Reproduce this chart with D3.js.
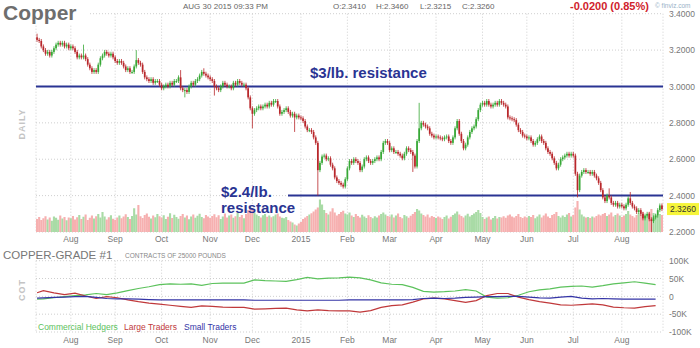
<!DOCTYPE html>
<html>
<head>
<meta charset="utf-8">
<script src="https://cdn.jsdelivr.net/npm/d3@7"></script>
<style>
  body { margin: 0; background: #fff; }
  svg text { font-family: Arial, "Liberation Sans", sans-serif; }
</style>
</head>
<body>
<svg id="chart" width="700" height="348"></svg>
<script>
// daily closes, Jul 10 2014 .. Aug 28 2015 (one per weekday)
const closes = [
  // Jul
  3.256, 3.25, 3.22, 3.20, 3.18, 3.19, 3.17, 3.19, 3.21, 3.23, 3.24, 3.23, 3.24, 3.22, 3.23, 3.21,
  // Aug
  3.22, 3.21, 3.19, 3.16, 3.17, 3.16, 3.17, 3.15, 3.12, 3.10, 3.08, 3.09, 3.08, 3.12, 3.155, 3.17, 3.19, 3.18, 3.17, 3.18, 3.16,
  // Sep
  3.14, 3.13, 3.14, 3.13, 3.11, 3.09, 3.10, 3.08, 3.08, 3.11, 3.145, 3.13, 3.12, 3.08, 3.05, 3.04, 3.03, 3.04, 3.02, 3.03, 3.03, 3.01,
  // Oct
  2.99, 3.00, 3.01, 3.00, 3.02, 3.01, 3.03, 3.03, 3.05, 2.99, 2.98, 2.98, 2.97, 3.00, 3.02, 3.01, 3.03, 3.04, 3.06, 3.08, 3.07, 3.06, 3.05,
  // Nov
  3.04, 3.03, 3.00, 2.99, 2.98, 3.00, 3.02, 3.01, 3.00, 3.00, 2.99, 3.02, 3.01, 3.03, 3.02, 3.01, 3.01, 2.99, 2.94, 2.88,
  // Dec
  2.85, 2.87, 2.88, 2.89, 2.88, 2.89, 2.90, 2.89, 2.91, 2.90, 2.92, 2.92, 2.89, 2.85, 2.86, 2.87, 2.88, 2.86, 2.84, 2.85, 2.83, 2.84, 2.83,
  // Jan 2015
  2.825, 2.81, 2.78, 2.76, 2.76, 2.75, 2.72, 2.69, 2.54, 2.58, 2.615, 2.62, 2.60, 2.605, 2.57, 2.55, 2.50, 2.48, 2.47, 2.46, 2.45, 2.49,
  // Feb
  2.55, 2.59, 2.58, 2.60, 2.59, 2.58, 2.54, 2.56, 2.60, 2.61, 2.59, 2.58, 2.59, 2.60, 2.61, 2.60, 2.64, 2.69, 2.70, 2.69,
  // Mar
  2.65, 2.66, 2.64, 2.64, 2.63, 2.62, 2.605, 2.63, 2.66, 2.65, 2.64, 2.62, 2.56, 2.70, 2.77, 2.80, 2.79, 2.78, 2.77, 2.74, 2.73, 2.72,
  // Apr
  2.725, 2.72, 2.715, 2.71, 2.72, 2.725, 2.70, 2.69, 2.72, 2.77, 2.81, 2.74, 2.70, 2.66, 2.68, 2.72, 2.75, 2.77, 2.78, 2.82, 2.87, 2.90,
  // May
  2.91, 2.90, 2.92, 2.90, 2.89, 2.90, 2.91, 2.90, 2.92, 2.91, 2.90, 2.89, 2.83, 2.825, 2.82, 2.815, 2.79, 2.76, 2.75, 2.73, 2.725,
  // Jun
  2.715, 2.72, 2.70, 2.68, 2.69, 2.71, 2.725, 2.70, 2.69, 2.66, 2.64, 2.63, 2.605, 2.58, 2.55, 2.57, 2.60, 2.61, 2.62, 2.63, 2.62, 2.63,
  // Jul
  2.62, 2.52, 2.43, 2.51, 2.53, 2.54, 2.53, 2.53, 2.52, 2.53, 2.51, 2.495, 2.47, 2.43, 2.39, 2.37, 2.40, 2.39, 2.36, 2.35, 2.36, 2.34, 2.35,
  // Aug
  2.341, 2.33, 2.35, 2.385, 2.36, 2.34, 2.33, 2.31, 2.32, 2.30, 2.275, 2.29, 2.30, 2.27, 2.26, 2.28, 2.29, 2.32, 2.346, 2.326
];
const firstOpen = 3.27;

const volumes = [
  52, 60, 48, 55, 63, 50, 58, 45, 62, 57, 49, 66, 54, 60, 47, 58,
  55, 64, 50, 59, 68, 52, 61, 70, 48, 57, 66, 54, 63, 72, 58, 80, 62, 50, 59, 67, 53,
  49, 58, 66, 55, 62, 71, 60, 52, 64, 95, 70, 108, 63, 56, 68, 74, 61, 54, 66, 59, 72, 63,
  58, 67, 52, 61, 75, 56, 69, 60, 53, 64, 72, 58, 66, 51, 62, 70, 57, 65, 73, 60, 55, 68, 62,
  56, 64, 71, 59, 67, 52, 62, 74, 58, 66, 70, 57, 63, 77, 60, 68, 55, 72, 88, 102,
  96, 78, 70, 64, 58, 67, 72, 61, 66, 59, 63, 70, 74, 62, 57, 55, 60, 48, 42, 38, 30, 26, 34,
  40, 52, 58, 64, 70, 75, 82, 90, 98, 130, 110, 88, 76, 70, 82, 95, 78, 66, 72, 80, 85, 74,
  70, 78, 66, 60, 72, 64, 58, 69, 62, 56, 67, 60, 55, 63, 58, 66, 72, 78, 70, 64,
  62, 70, 58, 66, 74, 60, 55, 68, 63, 57, 65, 72, 80, 92, 86, 74, 68, 62, 70, 58, 64, 60,
  56, 62, 58, 52, 60, 66, 54, 61, 68, 74, 82, 70, 64, 58, 66, 73, 62, 68, 74, 80, 88, 76,
  60, 52, 58, 62, 50, 56, 64, 54, 60, 58, 63, 57, 66, 70, 62, 58, 64, 72, 60, 56, 62,
  58, 64, 60, 68, 55, 62, 70, 58, 66, 74, 62, 56, 68, 72, 80, 64, 58, 66, 60, 70, 76, 62,
  68, 98, 124, 90, 70, 62, 58, 60, 56, 62, 58, 64, 70, 66, 72, 76, 64, 70, 78, 62, 68, 74, 66,
  60, 66, 72, 84, 70, 64, 58, 68, 74, 70, 80, 66, 72, 78, 92, 76, 70, 64, 72, 68
];

// long wicks [day index, high, low]
const wicks = [
  [0, 3.29, null], [22, 3.23, null], [47, 3.20, null], [68, 3.09, null], [70, null, 2.94],
  [79, 3.10, null], [84, null, 2.95], [102, null, 2.77], [122, null, 2.75], [133, null, 2.40],
  [178, null, 2.53], [181, 2.91, null], [256, null, 2.39], [271, 2.44, null], [281, 2.42, null],
  [291, null, 2.20]
];

const priceTicks = [2.2, 2.4, 2.6, 2.8, 3.0, 3.2, 3.4];
const monthLabels = ["Aug", "Sep", "Oct", "Nov", "Dec", "2015", "Feb", "Mar", "Apr", "May", "Jun", "Jul", "Aug"];

// COT net positions (thousand contracts), weekly from Jul 8 2014
const commercial = [-8, -7, -4, -1, 2, 4, 8, 5, 10, 16, 22, 27, 33, 35, 34, 35, 31, 36, 37, 37, 37,
  46, 44, 43, 42, 47, 53, 49, 51, 52, 54, 52, 46, 38, 34, 33, 25, 14, 12, 13, 15, 19, 15,
  -2, -5, -4, 3, 13, 18, 21, 26, 28, 29, 26, 30, 35, 38, 41, 37, 33];
const largeTraders = [10, 16, 10, 5, 9, 1, -6, -1, -4, -10, -15, -19, -22, -25, -28, -31, -27, -28, -30, -31, -31,
  -36, -35, -34, -33, -38, -41, -38, -40, -41, -41, -44, -40, -31, -26, -24, -16, -7, -5, -7, -12, -17, -12,
  2, 8, 8, -2, -9, -15, -19, -24, -25, -23, -21, -24, -30, -32, -33, -29, -26];
const smallTraders = [-5, -4, -3, -2, -1, 0, -3, -6, -7, -7, -8, -9, -10, -10, -10, -10, -10, -10, -10, -10, -10,
  -11, -11, -11, -11, -11, -11, -11, -11, -11, -10, -10, -10, -10, -10, -10, -9, -6, -5, -6, -5, -3, -2,
  -1, -1, 0, 0, -2, -4, -5, -2, 0, -5, -7, -6, -7, -8, -8, -8, -8];
const cotTicks = [-100, -50, 0, 50, 100];
const cotLabels = ["-100K", "-50K", "0", "50K", "100K"];

const svg = d3.select("#chart");
const left = 36, right = 663;

const days = d3.timeDay.range(new Date(2014, 6, 10), new Date(2015, 7, 29))
  .filter(d => d.getDay() !== 0 && d.getDay() !== 6);
const n = Math.min(days.length, closes.length);

const candles = d3.range(n).map(i => ({
  i,
  date: days[i],
  open: i === 0 ? firstOpen : closes[i - 1],
  close: closes[i],
  vol: volumes[i]
}));
wicks.forEach(([i, h, l]) => {
  if (candles[i]) { candles[i].high = h; candles[i].low = l; }
});

const x = d3.scaleBand().domain(d3.range(n)).range([left, right]);
const bw = x.bandwidth();
const cx = i => x(i) + bw / 2;

const y = d3.scaleLinear().domain([2.2, 3.4]).range([232, 13.7]);
const yVol = d3.scaleLinear().domain([0, 160]).range([232, 192]);
const yCot = d3.scaleLinear().domain([-100, 100]).range([332, 260.7]);

// first trading day of every month
const monthStarts = candles.filter((c, i) => i > 0 && c.date.getMonth() !== candles[i - 1].date.getMonth()).map(c => c.i);

function cotX(d) {
  let idx = candles.findIndex(c => c.date >= d);
  if (idx < 0) idx = n - 1;
  return cx(idx);
}
const cotDates = d3.timeTuesday.range(new Date(2014, 6, 8), new Date(2015, 7, 26));

// ---- grid
const grid = svg.append("g").attr("stroke", "#cfcfcf").attr("stroke-dasharray", "1,2").attr("stroke-width", 1);
priceTicks.forEach(t => {
  grid.append("line").attr("x1", left).attr("x2", right).attr("y1", y(t)).attr("y2", y(t));
});
cotTicks.forEach(t => {
  grid.append("line").attr("x1", left).attr("x2", right).attr("y1", yCot(t)).attr("y2", yCot(t));
});
[left, right].concat(monthStarts.map(cx)).forEach(px => {
  grid.append("line").attr("x1", px).attr("x2", px).attr("y1", y(3.4)).attr("y2", y(2.2));
  grid.append("line").attr("x1", px).attr("x2", px).attr("y1", yCot(100)).attr("y2", yCot(-100));
});

// ---- volume
svg.append("g").selectAll("rect").data(candles).join("rect")
  .attr("x", d => x(d.i))
  .attr("width", bw)
  .attr("y", d => yVol(d.vol))
  .attr("height", d => yVol(0) - yVol(d.vol))
  .attr("fill", d => d.close >= d.open ? "#a9dba6" : "#f6b0b0");

// ---- resistance lines
const navy = "#2a3493";
svg.append("line").attr("x1", left).attr("x2", right).attr("y1", y(3.0)).attr("y2", y(3.0))
  .attr("stroke", navy).attr("stroke-width", 2);
svg.append("line").attr("x1", 288).attr("x2", right).attr("y1", y(2.4)).attr("y2", y(2.4))
  .attr("stroke", navy).attr("stroke-width", 2);

// ---- candles
const up = "#37a836", down = "#b8272b";
const cg = svg.append("g");
cg.selectAll("line").data(candles).join("line")
  .attr("x1", d => cx(d.i)).attr("x2", d => cx(d.i))
  .attr("y1", d => d.high != null ? y(d.high) : y(Math.max(d.open, d.close)) - 2)
  .attr("y2", d => d.low != null ? y(d.low) : y(Math.min(d.open, d.close)) + 2)
  .attr("stroke", d => d.close >= d.open ? up : down)
  .attr("stroke-width", 0.8);
cg.selectAll("rect").data(candles).join("rect")
  .attr("x", d => x(d.i) + 0.2)
  .attr("width", bw - 0.4)
  .attr("y", d => y(Math.max(d.open, d.close)))
  .attr("height", d => Math.max(1, Math.abs(y(d.open) - y(d.close))))
  .attr("fill", d => d.close >= d.open ? up : down);

// ---- annotations
const ann = svg.append("g").attr("fill", navy).attr("font-weight", "bold").attr("font-size", 15);
ann.append("text").attr("x", 310).attr("y", 78).text("$3/lb. resistance");
ann.append("text").attr("x", 221).attr("y", 197).text("$2.4/lb.");
ann.append("text").attr("x", 221).attr("y", 213).text("resistance");

// ---- price axis (right)
const yAxis = svg.append("g").attr("transform", `translate(${right + 2},0)`)
  .call(d3.axisRight(y).tickValues(priceTicks).tickFormat(d3.format(".4f")).tickSize(0).tickPadding(4));
yAxis.select(".domain").remove();
yAxis.selectAll("text").attr("fill", "#777").attr("font-size", 8.5).attr("font-family", "Arial");

// last price badge
svg.append("rect").attr("x", 667).attr("y", y(2.326) - 6).attr("width", 32).attr("height", 12).attr("fill", "#f6f53a");
svg.append("text").attr("x", 670).attr("y", y(2.326)).attr("dy", "0.34em")
  .attr("font-size", 8.5).attr("fill", "#333").text("2.3260");

// ---- month axes
function monthAxis(ty) {
  const g = svg.append("g").attr("transform", `translate(0,${ty})`)
    .call(d3.axisBottom(x).tickValues(monthStarts).tickFormat((d, k) => monthLabels[k]).tickSize(0).tickPadding(0));
  g.select(".domain").remove();
  g.selectAll("text").attr("fill", "#777").attr("font-size", 8.5).attr("font-family", "Arial");
}
monthAxis(235.5);
monthAxis(336.5);

// ---- COT axis
const cAxis = svg.append("g").attr("transform", `translate(${right + 4},0)`)
  .call(d3.axisRight(yCot).tickValues(cotTicks).tickFormat((d, k) => cotLabels[k]).tickSize(0).tickPadding(2));
cAxis.select(".domain").remove();
cAxis.selectAll("text").attr("fill", "#777").attr("font-size", 8.5).attr("font-family", "Arial");

// ---- COT lines
const cotSeries = [
  { name: "Commercial Hedgers", values: commercial, color: "#5cc25c" },
  { name: "Large Traders", values: largeTraders, color: "#c0393b" },
  { name: "Small Traders", values: smallTraders, color: "#3434a6" }
];
const line = d3.line().x(d => d[0]).y(d => yCot(d[1]));
cotSeries.forEach(s => {
  const pts = s.values.map((v, k) => [cotX(cotDates[k]), v]);
  svg.append("path").attr("d", line(pts)).attr("fill", "none")
    .attr("stroke", s.color).attr("stroke-width", 1.2);
});

// legend
const leg = svg.append("g").attr("font-size", 8.5);
leg.append("text").attr("x", 38).attr("y", 330).attr("fill", cotSeries[0].color).text(cotSeries[0].name);
leg.append("text").attr("x", 124).attr("y", 330).attr("fill", cotSeries[1].color).text(cotSeries[1].name);
leg.append("text").attr("x", 184).attr("y", 330).attr("fill", cotSeries[2].color).text(cotSeries[2].name);

// ---- titles and header
svg.append("rect").attr("x", 0).attr("y", 0).attr("width", 88).attr("height", 24).attr("fill", "#fff");
svg.append("text").attr("x", 3).attr("y", 20).attr("font-size", 21).attr("font-weight", "bold")
  .attr("fill", "#6e6e6e").text("Copper");

const hdr = svg.append("g").attr("font-size", 8).attr("fill", "#666");
hdr.append("text").attr("x", 183).attr("y", 9).text("AUG 30 2015 09:33 PM");
hdr.append("text").attr("x", 333).attr("y", 9).text("O:2.3410");
hdr.append("text").attr("x", 376).attr("y", 9).text("H:2.3460");
hdr.append("text").attr("x", 420).attr("y", 9).text("L:2.3215");
hdr.append("text").attr("x", 462).attr("y", 9).text("C:2.3260");
svg.append("text").attr("x", 570).attr("y", 10).attr("font-size", 11).attr("font-weight", "bold")
  .attr("fill", "#d0222b").text("-0.0200 (0.85%)");
svg.append("text").attr("x", 655).attr("y", 8).attr("font-size", 6.5).attr("fill", "#9ab3c8").text("© finviz.com");

svg.append("text").attr("transform", "translate(25,124) rotate(-90)").attr("text-anchor", "middle")
  .attr("font-size", 9).attr("font-weight", "bold").attr("letter-spacing", 1).attr("fill", "#c4c4c4").text("DAILY");
svg.append("text").attr("transform", "translate(25,290) rotate(-90)").attr("text-anchor", "middle")
  .attr("font-size", 9).attr("font-weight", "bold").attr("letter-spacing", 1).attr("fill", "#c4c4c4").text("COT");

svg.append("text").attr("x", 3).attr("y", 259).attr("font-size", 11.5).attr("fill", "#777").text("COPPER-GRADE #1");
svg.append("text").attr("x", 125).attr("y", 258).attr("font-size", 6.5).attr("fill", "#888").text("CONTRACTS OF 25000 POUNDS");
</script>
</body>
</html>
